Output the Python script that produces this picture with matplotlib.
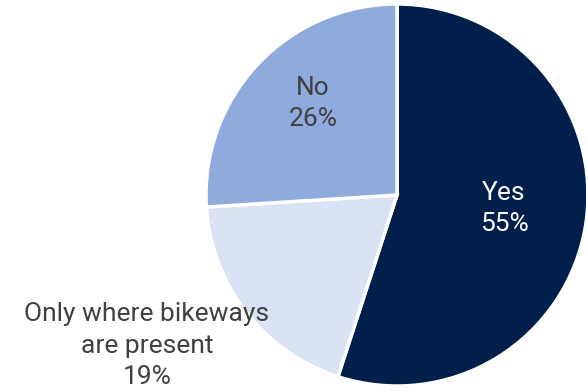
import matplotlib.pyplot as plt

labels = ['Yes', 'Only where bikeways\nare present', 'No']
shares = [55, 19, 26]
colors = ['#001f4b', '#dae3f3', '#8faadc']
text_colors = ['white', '#404040', '#404040']
# label positions in pie units (radius = 1)
label_pos = [(0.56, -0.07), (-1.31, -0.79), (-0.44, 0.48)]

plt.rcParams['font.family'] = ['Roboto', 'DejaVu Sans']

fig = plt.figure(figsize=(5.86, 3.91), dpi=100)
ax = fig.add_axes([206 / 586, 5 / 391, 382 / 586, 382 / 391])
ax.pie(shares, colors=colors, startangle=90, counterclock=False,
       wedgeprops=dict(edgecolor='white', linewidth=2.5))
ax.set_xlim(-1, 1)
ax.set_ylim(-1, 1)
ax.set_aspect('equal')

for lab, val, (x, y), tc in zip(labels, shares, label_pos, text_colors):
    ax.text(x, y, f'{lab}\n{val}%', ha='center', va='center', fontsize=19,
            color=tc, linespacing=1.4, clip_on=False)

fig.savefig('out.png', dpi=100)
